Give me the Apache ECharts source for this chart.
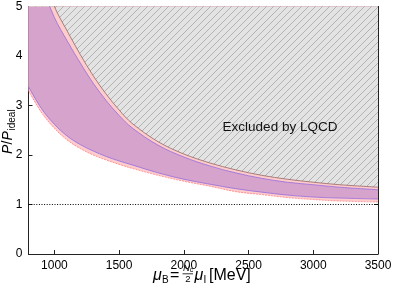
<!DOCTYPE html>
<html><head><meta charset="utf-8">
<script src="https://cdn.jsdelivr.net/npm/echarts@6/dist/echarts.min.js"></script>
<style>html,body{margin:0;padding:0;background:#fff}#c{width:394px;height:296px}</style>
</head><body><div id="c"></div>
<script>
// ---- data ----
const muB    = [800, 900, 1000, 1100, 1200, 1300, 1400, 1500, 1600, 1800, 2000, 2200, 2400, 2600, 2800, 3000, 3200, 3500];
const upperB = [6.6, 5.75, 5.0, 4.5, 4.03, 3.6, 3.23, 2.91, 2.64, 2.27, 2.02, 1.84, 1.70, 1.59, 1.51, 1.45, 1.40, 1.35];
const upperA = [6.2, 5.45, 4.78, 4.3, 3.86, 3.45, 3.10, 2.80, 2.55, 2.20, 1.96, 1.78, 1.64, 1.53, 1.45, 1.40, 1.35, 1.30];
const lowerA = [3.38, 2.94, 2.62, 2.38, 2.21, 2.08, 1.97, 1.88, 1.80, 1.64, 1.51, 1.41, 1.32, 1.25, 1.19, 1.15, 1.13, 1.11];
const lowerB = [3.30, 2.86, 2.54, 2.30, 2.13, 2.00, 1.90, 1.81, 1.73, 1.59, 1.47, 1.37, 1.26, 1.20, 1.14, 1.10, 1.07, 1.05];
const idealX = [800, 3500];
const idealY = [1, 1];
const xTicks = [1000, 1500, 2000, 2500, 3000, 3500];
const legendNames = ['LQCD A', 'LQCD B'];
const regionLabel = 'Excluded by LQCD';

const FONT = "'Liberation Sans', Arial, sans-serif";
const pairs = (xs, ys) => xs.map((x, i) => [x, ys[i]]);

// colours (as composited on white)
const PINK = '#ffcccc';
const PURPLE = '#d6a3cc';
const BLUE = '#ccccff';

// hatch pattern
const tile = document.createElement('canvas');
const S = 7; tile.width = S; tile.height = S;
const g = tile.getContext('2d');
g.fillStyle = '#e3e3e3'; g.fillRect(0, 0, S, S);
g.strokeStyle = '#a6a6a6'; g.lineWidth = 0.8;
g.beginPath();
g.moveTo(0, S); g.lineTo(S, 0);
g.moveTo(-1, 1); g.lineTo(1, -1);
g.moveTo(S - 1, S + 1); g.lineTo(S + 1, S - 1);
g.stroke();

const chart = echarts.init(document.getElementById('c'), null, {renderer: 'canvas'});
const axisCol = '#222';
const baseX = {
  type: 'value', min: 800, max: 3500,
  axisLine: {show: true, onZero: false, lineStyle: {color: axisCol, width: 1}},
  splitLine: {show: false}
};
const baseY = {
  type: 'value', min: 0, max: 5, interval: 1,
  axisLine: {show: true, onZero: false, lineStyle: {color: axisCol, width: 1}},
  splitLine: {show: false}
};
const smooth = 0.35;

function band(name, ys, fill, lineColor, lineType, z) {
  return {
    name: name, type: 'line', data: pairs(muB, ys), smooth: smooth, symbol: 'none',
    itemStyle: {color: fill},
    lineStyle: {color: lineColor, width: 0.9, type: lineType || 'solid'},
    areaStyle: {origin: 'end', color: fill, opacity: 1},
    z: z, silent: true
  };
}

const txt = (x, y, s, font, extra) => ({type: 'text', x: x, y: y,
  style: Object.assign({text: s, fill: '#000', font: font + ' ' + FONT, textVerticalAlign: 'middle'}, extra || {})});

chart.setOption({
  animation: false,
  grid: {left: 28.5, right: 16, top: 6.5, bottom: 42, containLabel: false, outerBoundsMode: 'none'},
  xAxis: [
    Object.assign({}, baseX, {
      position: 'bottom',
      axisTick: {show: true, inside: true, length: 4, customValues: xTicks, lineStyle: {color: axisCol}},
      axisLabel: {show: true, customValues: xTicks, formatter: v => String(v), color: '#000', fontSize: 12, fontFamily: FONT, margin: 6}
    }),
    Object.assign({}, baseX, {
      position: 'top',
      axisTick: {show: true, inside: true, length: 4, customValues: xTicks, lineStyle: {color: axisCol}},
      axisLabel: {show: false}
    })
  ],
  yAxis: [
    Object.assign({}, baseY, {
      position: 'left',
      axisTick: {show: true, inside: true, length: 4, lineStyle: {color: axisCol}},
      axisLabel: {show: true, color: '#000', fontSize: 12, fontFamily: FONT, margin: 6}
    }),
    Object.assign({}, baseY, {
      position: 'right',
      axisTick: {show: true, inside: true, length: 4, lineStyle: {color: axisCol}},
      axisLabel: {show: false}
    })
  ],
  legend: {
    orient: 'vertical', right: 20, top: 10,
    data: [
      {name: legendNames[0], icon: 'rect', itemStyle: {color: BLUE, borderColor: 'rgba(0,0,255,0.25)', borderWidth: 0.6}},
      {name: legendNames[1], icon: 'rect', itemStyle: {color: PINK, borderColor: 'rgba(255,0,0,0.3)', borderWidth: 0.6, borderType: 'dashed'}}
    ],
    itemWidth: 21, itemHeight: 10, itemGap: 3,
    backgroundColor: 'rgba(255,255,255,0.85)', borderColor: '#d8d8d8', borderWidth: 1, borderRadius: 3,
    padding: [4, 4, 3, 4],
    textStyle: {color: '#000', fontSize: 11, fontFamily: FONT, padding: [0, 0, 0, 3]},
    selectedMode: false
  },
  graphic: [
    {type: 'text', x: 280, y: 127, style: {text: regionLabel, fill: '#111', font: '13.5px ' + FONT, textAlign: 'center', textVerticalAlign: 'middle'}, z: 100},
    // y axis label: P / P_ideal (rotated)
    {type: 'group', x: 8.5, y: 131, rotation: Math.PI / 2, z: 100, children: [
      txt(-23, 0, 'P', 'italic 14px'),
      txt(-13.5, 0, '/', '14px'),
      txt(-9.5, 0, 'P', 'italic 14px'),
      txt(0.5, 4, 'ideal', '10px')
    ]},
    // x axis label: mu_B = (N_c / 2) mu_I [MeV]
    {type: 'group', x: 0, y: 0, z: 100, children: [
      txt(153, 276, 'μ', 'italic 16px'),
      txt(162, 280.5, 'B', '10px'),
      txt(170, 276, '=', '16px'),
      txt(183, 268.5, 'N', 'italic 9.5px'),
      txt(189.8, 270.5, 'c', '7px'),
      {type: 'line', shape: {x1: 182.5, y1: 273.8, x2: 193, y2: 273.8}, style: {stroke: '#000', lineWidth: 0.8}},
      txt(185.3, 279.5, '2', '9.5px'),
      txt(194.5, 276, 'μ', 'italic 16px'),
      txt(203.5, 280.5, 'I', '10px'),
      txt(209, 276, '[MeV]', '16px')
    ]}
  ],
  series: [
    // painted bottom-up; each fills from its curve up to the top of the plot
    band('B_low', lowerB, PINK, 'rgba(255,70,70,0.55)', [2, 1], 1),
    band(legendNames[0], lowerA, PURPLE, 'rgba(140,100,225,0.8)', 'solid', 2),
    band(legendNames[1], upperA, PINK, 'rgba(140,100,225,0.8)', 'solid', 3),
    {
      name: 'excluded', type: 'line', data: pairs(muB, upperB), smooth: smooth, symbol: 'none',
      lineStyle: {color: 'rgba(150,95,95,0.85)', width: 0.9},
      areaStyle: {origin: 'end', color: {image: tile, repeat: 'repeat'}, opacity: 1},
      z: 4, silent: true
    },
    {
      name: 'ideal', type: 'line', data: pairs(idealX, idealY), symbol: 'none',
      lineStyle: {color: '#000', width: 1, type: [1, 1.6]}, z: 5, silent: true
    }
  ]
});
</script>
</body></html>
